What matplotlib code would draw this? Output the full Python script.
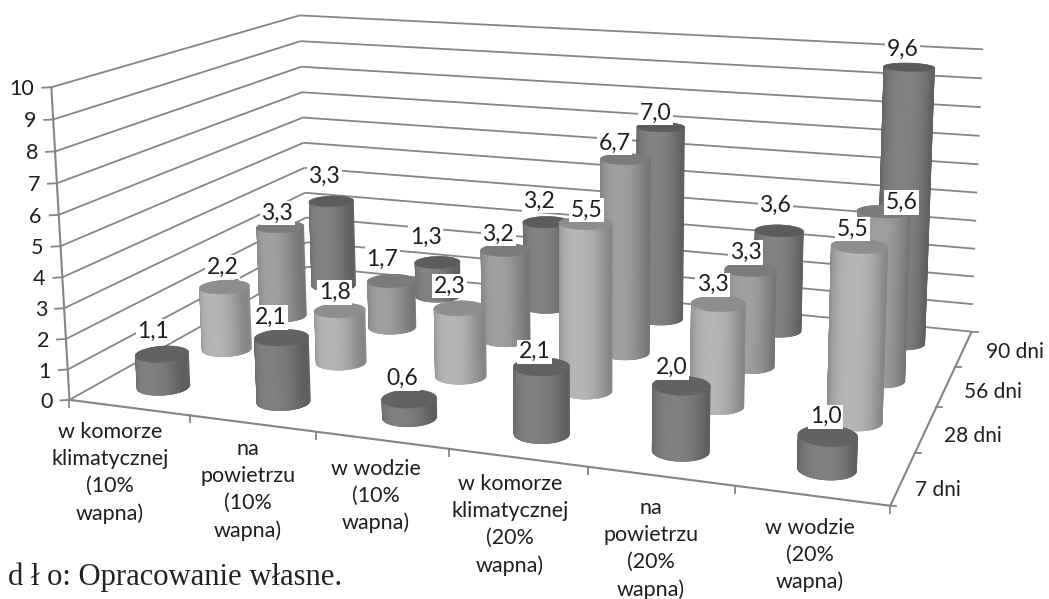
"""3D cylinder chart of strength results by curing condition and age."""

import matplotlib

matplotlib.use("Agg")
import matplotlib.pyplot as plt
import numpy as np
from matplotlib.collections import PolyCollection
from matplotlib.patches import Polygon

CATEGORIES = [
    "w komorze\nklimatycznej\n(10%\nwapna)",
    "na\npowietrzu\n(10%\nwapna)",
    "w wodzie\n(10%\nwapna)",
    "w komorze\nklimatycznej\n(20%\nwapna)",
    "na\npowietrzu\n(20%\nwapna)",
    "w wodzie\n(20%\nwapna)",
]
SERIES_NAMES = ["7 dni", "28 dni", "56 dni", "90 dni"]
DNI_7 = [1.1, 2.1, 0.6, 2.1, 2.0, 1.0]
DNI_28 = [2.2, 1.8, 2.3, 5.5, 3.3, 5.5]
DNI_56 = [3.3, 1.7, 3.2, 6.7, 3.3, 5.6]
DNI_90 = [3.3, 1.3, 3.2, 7.0, 3.6, 9.6]
VALUE_TICKS = list(range(11))
SOURCE_NOTE = "d ł o: Opracowanie własne."

# (side colour, top colour) per series
SERIES_COLORS = [("#7c7c7e", "#626263"), ("#b0b0b2", "#8e8e8f"),
                 ("#9a9a9c", "#7b7b7c"), ("#7e7e80", "#5c5c5d")]

GRID = "#858585"
TEXT = "#1e1e1e"
RX, RD = 0.195, 0.205
N_X, N_D, V_MAX = len(CATEGORIES), len(SERIES_NAMES), VALUE_TICKS[-1]

# Box corners (x, depth, value) and where they land on the canvas, in pixels
BOX_WORLD = [(0, 0, 0), (N_X, 0, 0), (N_X, N_D, 0), (0, N_D, 0),
             (0, 0, V_MAX), (N_X, N_D, V_MAX), (0, N_D, V_MAX)]
BOX_PIXELS = [(70, 399), (890, 507), (972, 330), (307, 268),
              (51, 87), (983, 50), (300, 15)]

# Text anchors for the category and series labels
CATEGORY_ANCHORS = [(110, 473), (248, 490), (376, 496), (510, 525), (651, 549), (810, 555)]
SERIES_ANCHORS = [(938, 490), (973, 436), (993, 392), (1015, 352)]

# Pixel nudges of the value labels, one row per series
LABEL_DX = [[-2, -4, 0, 0, -3, 5],
            [5, 2, -3, 8, 1, 0],
            [4, -2, 0, -4, 2, 25],
            [0, -5, 0, 2, 3, 0]]
LABEL_DY = [[1, 4, 4, 9, 6, 5],
            [4, 6, 2, 11, 5, 7],
            [10, 2, 8, 8, 7, 15],
            [-1, -1, 3, 10, -1, 6]]


def fit_camera(world, pixels):
    rows = []
    for (x, y, z), (u, v) in zip(world, pixels):
        rows.append([x, y, z, 1, 0, 0, 0, 0, -u * x, -u * y, -u * z, -u])
        rows.append([0, 0, 0, 0, x, y, z, 1, -v * x, -v * y, -v * z, -v])
    _, _, vt = np.linalg.svd(np.array(rows, dtype=float))
    return vt[-1].reshape(3, 4)


CAMERA = fit_camera(BOX_WORLD, BOX_PIXELS)


def project(x, d, v):
    x, d, v = np.broadcast_arrays(x, d, v)
    pts = np.stack([x, d, v, np.ones_like(x, dtype=float)], axis=-1)
    out = pts @ CAMERA.T
    return out[..., 0] / out[..., 2], out[..., 1] / out[..., 2]


def shade(color, t):
    # darker towards the silhouette of the cylinder
    rgb = np.array(matplotlib.colors.to_rgb(color))
    factor = 1.0 - 0.24 * np.abs(t) ** 2.5 + 0.04 * (1 - t ** 2)
    return tuple(np.clip(rgb * factor, 0, 1))


def convex_hull(points):
    pts = sorted(map(tuple, points))

    def half(seq):
        out = []
        for p in seq:
            while len(out) > 1:
                a, b = np.subtract(out[-1], out[-2]), np.subtract(p, out[-1])
                if a[0] * b[1] - a[1] * b[0] > 0:
                    break
                out.pop()
            out.append(p)
        return out[:-1]

    return np.array(half(pts) + half(pts[::-1]))


def draw_cylinder(ax, i, j, value, side, top, z):
    cx, cd = i + 0.5, j + 0.5
    ang = np.linspace(0, 2 * np.pi, 121)
    wx, wd = cx + RX * np.cos(ang), cd + RD * np.sin(ang)
    bx, by = project(wx, wd, 0.0)
    tx, ty = project(wx, wd, value)
    outline = convex_hull(np.vstack([np.column_stack([bx, by]), np.column_stack([tx, ty])]))
    body = Polygon(outline, closed=True, facecolor=shade(side, 0.95), edgecolor="none", zorder=z)
    ax.add_patch(body)
    strips, colors = [], []
    for k in range(len(ang) - 1):
        if np.sin(ang[k]) > 0.05:
            continue
        strips.append([(bx[k], by[k]), (bx[k + 1], by[k + 1]), (tx[k + 1], ty[k + 1]), (tx[k], ty[k])])
        colors.append(shade(side, np.cos(ang[k])))
    coll = PolyCollection(strips, facecolors=colors, edgecolors=colors, linewidths=0.5, zorder=z + 0.1)
    ax.add_collection(coll)
    coll.set_clip_path(body)
    ax.add_patch(Polygon(np.column_stack([tx, ty]), closed=True, facecolor=top, edgecolor=top,
                         linewidth=0.3, zorder=z + 0.5))


def line3(ax, start, end, lw=1.3, z=1):
    xs, ys = project(*np.array([start, end], dtype=float).T)
    ax.plot(xs, ys, color=GRID, lw=lw, solid_capstyle="butt", zorder=z)


fig = plt.figure(figsize=(10.49, 5.99), dpi=100)
ax = fig.add_axes([0, 0, 1, 1])
ax.set_xlim(0, 1049)
ax.set_ylim(599, 0)
ax.axis("off")
plt.rcParams["font.family"] = ["Lato", "DejaVu Sans"]

# walls
for v in VALUE_TICKS:
    line3(ax, (0, 0, v), (0, N_D, v))
    line3(ax, (0, N_D, v), (N_X, N_D, v))
    px, py = project(0.0, 0.0, v)
    ax.plot([px - 9, px], [py + 0.5, py], color=GRID, lw=1.3, zorder=1)
    ax.text(px - 17, py + 2, str(v), ha="right", va="center", fontsize=15.5, color=TEXT)

# axes lines and ticks on the floor
line3(ax, (0, 0, 0), (0, 0, V_MAX), lw=1.5, z=2)
line3(ax, (0, 0, 0), (N_X, 0, 0), lw=1.5, z=2)
line3(ax, (N_X, 0, 0), (N_X, N_D, 0), lw=1.5, z=2)
for i in range(N_X + 1):
    px, py = project(float(i), 0.0, 0.0)
    ax.plot([px, px], [py, py + 7], color=GRID, lw=1.3, zorder=2)
for j in range(N_D + 1):
    px, py = project(float(N_X), float(j), 0.0)
    ax.plot([px, px + 6], [py, py], color=GRID, lw=1.3, zorder=2)

# cylinders, back row first so nearer ones cover them
rows = [DNI_7, DNI_28, DNI_56, DNI_90]
z = 3
for j in reversed(range(N_D)):
    side, top = SERIES_COLORS[j]
    for i, value in enumerate(rows[j]):
        draw_cylinder(ax, i, j, value, side, top, z)
        z += 1

# value labels sit on white boxes above everything else
for j, row in enumerate(rows):
    for i, value in enumerate(row):
        px, py = project(i + 0.5, j + 0.5, value)
        ax.text(px - 7 + LABEL_DX[j][i], py - 24 + LABEL_DY[j][i], f"{value:.1f}".replace(".", ","),
                ha="center", va="center", fontsize=16.5, color=TEXT, zorder=200 + j,
                bbox=dict(facecolor="white", edgecolor="none", pad=1.2))

for label, (px, py) in zip(CATEGORIES, CATEGORY_ANCHORS):
    ax.text(px, py, label, ha="center", va="center", fontsize=15.5, color=TEXT, linespacing=1.44)
for label, (px, py) in zip(SERIES_NAMES, SERIES_ANCHORS):
    ax.text(px, py, label, ha="center", va="center", fontsize=15, color=TEXT)

ax.text(8, 577, SOURCE_NOTE, ha="left", va="center", fontsize=22.05, color="#222222",
        family="Liberation Serif")

fig.savefig("out.png", dpi=100)
